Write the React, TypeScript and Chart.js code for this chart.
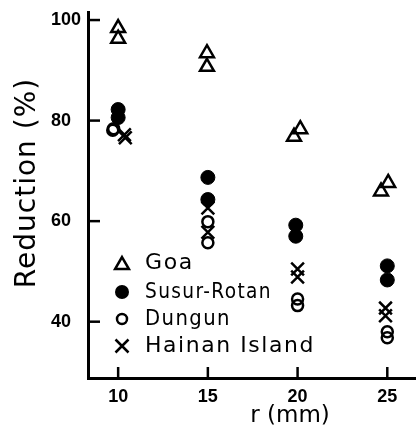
import React, { useEffect, useRef } from 'react';
import { Chart, registerables } from 'chart.js';

Chart.register(...registerables);

const xTicks = [10, 15, 20, 25];
const yTicks = [40, 60, 80, 100];

const goaX = [10, 10, 14.95, 14.95, 20.15, 19.8, 25.05, 24.65];
const goaY = [98.4, 96.3, 93.4, 90.7, 78.3, 76.8, 67.6, 65.9];

const susurX = [10, 10, 15, 15, 19.9, 19.9, 25, 25];
const susurY = [82.2, 80.6, 68.7, 64.3, 59.2, 57.0, 51.1, 48.3];

const dungunX = [9.7, 9.75, 15, 15, 20, 20, 25, 25];
const dungunY = [78.1, 78.4, 59.9, 55.7, 44.5, 43.2, 38.0, 36.8];

const hainanX = [10.35, 10.4, 15, 15, 20, 20, 24.9, 24.9];
const hainanY = [77.2, 76.6, 62.6, 57.8, 50.5, 48.9, 42.7, 41.2];

const seriesNames = ['Goa', 'Susur-Rotan', 'Dungun', 'Hainan Island'];

const pts = (xs: number[], ys: number[]) => xs.map((x, i) => ({ x, y: ys[i] }));

const legendTextWidths = [52, 127, 86, 170];

const annotPlugin = {
  id: 'annot',
  afterDraw(chart: any) {
    const ctx = chart.ctx;
    const xs = chart.scales.x;
    const ys = chart.scales.y;
    const area = chart.chartArea;
    ctx.save();
    ctx.strokeStyle = '#000';
    ctx.fillStyle = '#000';
    ctx.lineWidth = 2.5;
    // inward ticks
    yTicks.forEach((v) => {
      const py = ys.getPixelForValue(v);
      ctx.beginPath();
      ctx.moveTo(area.left, py);
      ctx.lineTo(area.left + 12, py);
      ctx.stroke();
    });
    xTicks.forEach((v) => {
      const px = xs.getPixelForValue(v);
      ctx.beginPath();
      ctx.moveTo(px, area.bottom);
      ctx.lineTo(px, area.bottom - 11);
      ctx.stroke();
    });
    // y title
    ctx.save();
    ctx.translate(28, 183);
    ctx.rotate(-Math.PI / 2);
    ctx.font = '28px "DejaVu Sans"';
    (ctx as any).letterSpacing = '1px';
    ctx.textAlign = 'center';
    ctx.textBaseline = 'middle';
    ctx.fillText('Reduction (%)', 0, 0);
    ctx.restore();
    // x title
    ctx.font = '23px "DejaVu Sans"';
    ctx.textAlign = 'center';
    ctx.textBaseline = 'middle';
    ctx.fillText('r (mm)', 290, 416);
    // legend
    const rows = [263, 292, 319, 346];
    const sx = 122;
    ctx.font = '22px "DejaVu Sans"';
    (ctx as any).letterSpacing = '1.6px';
    ctx.textAlign = 'left';
    rows.forEach((ry, i) => {
      ctx.lineWidth = 2.5;
      ctx.beginPath();
      if (i === 0) {
        const r = 8;
        let rad = 0;
        ctx.moveTo(sx + Math.sin(rad) * r, ry - Math.cos(rad) * r + 2);
        rad += (2 * Math.PI) / 3;
        ctx.lineTo(sx + Math.sin(rad) * r, ry - Math.cos(rad) * r + 2);
        rad += (2 * Math.PI) / 3;
        ctx.lineTo(sx + Math.sin(rad) * r, ry - Math.cos(rad) * r + 2);
        ctx.closePath();
        ctx.stroke();
      } else if (i === 1) {
        ctx.arc(sx, ry, 7, 0, Math.PI * 2);
        ctx.fill();
      } else if (i === 2) {
        ctx.arc(sx, ry, 5, 0, Math.PI * 2);
        ctx.stroke();
      } else {
        const d = 6.5;
        ctx.moveTo(sx - d, ry - d);
        ctx.lineTo(sx + d, ry + d);
        ctx.moveTo(sx + d, ry - d);
        ctx.lineTo(sx - d, ry + d);
        ctx.stroke();
      }
      ctx.fillText(seriesNames[i], 145, ry, legendTextWidths[i]);
    });
    ctx.restore();
  },
};

export default function App() {
  const ref = useRef<HTMLCanvasElement>(null);
  useEffect(() => {
    if (!ref.current) return;
    const chart = new Chart(ref.current, {
      type: 'scatter',
      data: {
        datasets: [
          {
            label: seriesNames[0],
            data: pts(goaX, goaY),
            pointStyle: 'triangle',
            pointRadius: 8,
            borderWidth: 2.5,
            borderColor: '#000',
            backgroundColor: 'rgba(255,255,255,0)',
          },
          {
            label: seriesNames[1],
            data: pts(susurX, susurY),
            pointStyle: 'circle',
            pointRadius: 7,
            borderWidth: 1,
            borderColor: '#000',
            backgroundColor: '#000',
          },
          {
            label: seriesNames[2],
            data: pts(dungunX, dungunY),
            pointStyle: 'circle',
            pointRadius: 5.5,
            borderWidth: 2.5,
            borderColor: '#000',
            backgroundColor: 'rgba(255,255,255,0)',
          },
          {
            label: seriesNames[3],
            data: pts(hainanX, hainanY),
            pointStyle: 'crossRot',
            pointRadius: 9,
            borderWidth: 2.5,
            borderColor: '#000',
            backgroundColor: '#000',
          },
        ],
      },
      options: {
        animation: false,
        responsive: false,
        layout: { autoPadding: false, padding: { left: 51, right: 0, top: 12, bottom: 0 } },
        plugins: { legend: { display: false }, tooltip: { enabled: false } },
        scales: {
          x: {
            type: 'linear',
            min: 8.32,
            max: 26.6,
            afterBuildTicks: (s: any) => {
              s.ticks = xTicks.map((v) => ({ value: v }));
            },
            afterFit: (s: any) => {
              s.height = 52;
              s.paddingRight = 0;
              s.paddingLeft = 0;
            },
            grid: { display: true, drawOnChartArea: false, drawTicks: false, color: 'rgba(0,0,0,0)' },
            border: { display: true, color: '#000', width: 3 },
            ticks: {
              color: '#000',
              padding: 8,
              font: { family: '"Liberation Sans"', size: 18, weight: 'bold' },
            },
          },
          y: {
            type: 'linear',
            min: 28.8,
            max: 101.6,
            afterBuildTicks: (s: any) => {
              s.ticks = yTicks.map((v) => ({ value: v }));
            },
            afterFit: (s: any) => {
              s.width = 37;
              s.paddingTop = 0;
              s.paddingBottom = 0;
            },
            grid: { display: true, drawOnChartArea: false, drawTicks: false, color: 'rgba(0,0,0,0)' },
            border: { display: true, color: '#000', width: 3 },
            ticks: {
              color: '#000',
              padding: 0,
              crossAlign: 'far',
              font: { family: '"Liberation Sans"', size: 18, weight: 'bold' },
            },
          },
        },
      } as any,
      plugins: [annotPlugin],
    });
    return () => chart.destroy();
  }, []);
  return (
    <div style={{ position: 'fixed', left: 0, top: 0, width: 416, height: 430, background: '#fff' }}>
      <canvas ref={ref} width={416} height={430} style={{ display: 'block' }} />
    </div>
  );
}
